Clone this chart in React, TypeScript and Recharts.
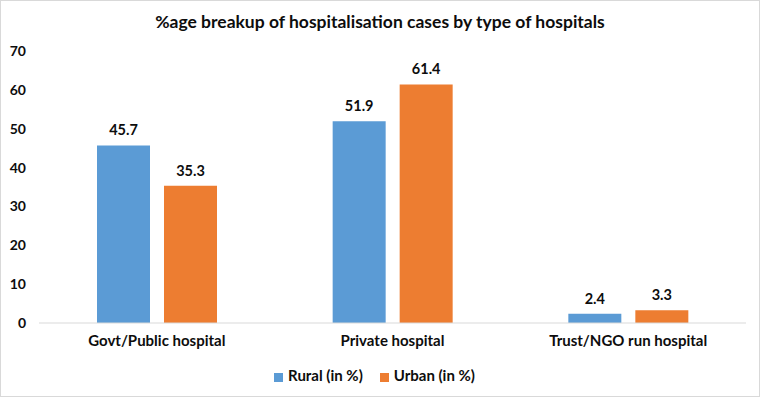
import React from "react"
import { BarChart, Bar, XAxis, YAxis, Legend, LabelList } from "recharts"

const categories = ["Govt/Public hospital", "Private hospital", "Trust/NGO run hospital"]
const rural = [45.7, 51.9, 2.4]
const urban = [35.3, 61.4, 3.3]
const yTicks = [0, 10, 20, 30, 40, 50, 60, 70]

const data = categories.map((name, i) => ({
    name,
    rural: rural[i],
    urban: urban[i],
}))

const FONT = "Lato, 'Liberation Sans', sans-serif"
const TEXT = "#0d0d0d"
const labelStyle = { fontSize: 14.5, fontWeight: 700, fill: TEXT, fontFamily: FONT }

export default function App() {
    return (
        <div
            style={{
                position: "fixed",
                left: 0,
                top: 0,
                width: 760,
                height: 397,
                background: "#fff",
                boxSizing: "border-box",
                border: "1px solid #d9d9d9",
                fontFamily: FONT,
            }}
        >
            <div
                style={{
                    position: "absolute",
                    left: 0,
                    right: 0,
                    top: 10,
                    textAlign: "center",
                    fontSize: 17.5,
                    fontWeight: 700,
                    color: TEXT,
                }}
            >
                %age breakup of hospitalisation cases by type of hospitals
            </div>
            <div style={{ position: "absolute", left: -1, top: -1 }}>
                <BarChart
                    width={760}
                    height={397}
                    data={data}
                    margin={{ top: 51, right: 14, left: 0, bottom: 10 }}
                    barGap={14}
                    barCategoryGap={58}
                >
                    <XAxis
                        dataKey="name"
                        tickLine={false}
                        axisLine={{ stroke: "#d9d9d9", strokeWidth: 1 }}
                        tickSize={0}
                        tickMargin={12}
                        height={30}
                        tick={{ fontSize: 15, fontWeight: 700, fill: TEXT, fontFamily: FONT }}
                    />
                    <YAxis
                        domain={[0, 70]}
                        ticks={yTicks}
                        width={39}
                        tickLine={false}
                        axisLine={false}
                        tickSize={0}
                        tickMargin={13}
                        tick={{ fontSize: 14, fontWeight: 700, fill: TEXT, fontFamily: FONT }}
                    />
                    <Legend
                        verticalAlign="bottom"
                        height={34}
                        iconType="square"
                        iconSize={9}
                        wrapperStyle={{
                            top: 366,
                            bottom: "auto",
                            left: 10,
                            fontSize: 15,
                            fontWeight: 700,
                            fontFamily: FONT,
                        }}
                        formatter={(value) => (
                            <span style={{ color: TEXT, marginLeft: 1, marginRight: 7 }}>{value}</span>
                        )}
                    />
                    <Bar dataKey="rural" name="Rural (in %)" fill="#5b9bd5" isAnimationActive={false}>
                        <LabelList dataKey="rural" position="top" offset={10} style={labelStyle} />
                    </Bar>
                    <Bar dataKey="urban" name="Urban (in %)" fill="#ed7d31" isAnimationActive={false}>
                        <LabelList dataKey="urban" position="top" offset={10} style={labelStyle} />
                    </Bar>
                </BarChart>
            </div>
        </div>
    )
}
